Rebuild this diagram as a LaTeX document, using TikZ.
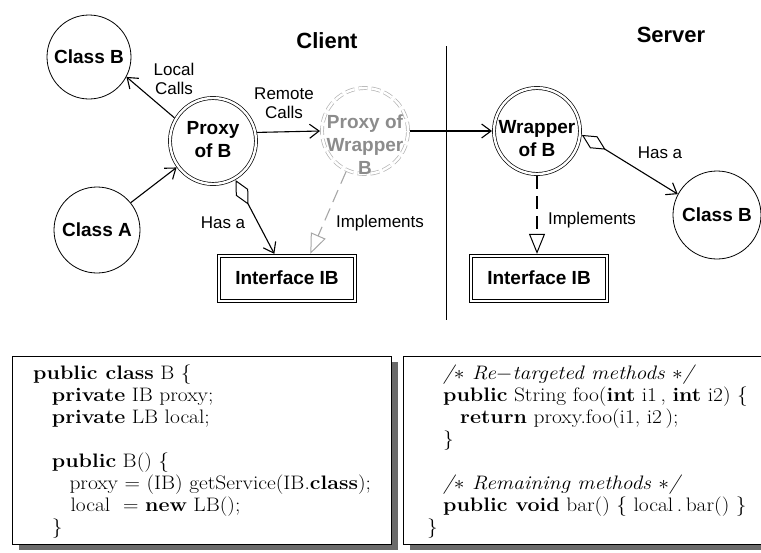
\RequirePackage{fix-cm}
\documentclass[tikz,border=0pt]{standalone}
\usepackage{fontspec}
\newfontfamily\hv{Liberation Sans}
\usetikzlibrary{arrows.meta}
\begin{document}
\begin{tikzpicture}[x=1pt,y=-1pt,
  cls/.style={circle, draw, line width=0.8pt, minimum size=#1, inner sep=0pt,
    font=\hv\fontsize{19}{23}\selectfont\bfseries, align=center},
  cls/.default=86pt,
  dcls/.style={circle, draw, double, double distance=2.4pt, line width=0.7pt,
    minimum size=86pt, inner sep=0pt, outer sep=2pt},
  ctext/.style={font=\hv\fontsize{19}{23}\selectfont\bfseries, align=center, inner sep=0pt},
  iface/.style={draw, line width=0.7pt,
    minimum width=132.7pt, minimum height=41.7pt, inner sep=0pt, outer sep=3.3pt,
    font=\hv\fontsize{19}{23}\selectfont\bfseries},
  ifaceouter/.style={draw, line width=0.7pt},
  lbl/.style={font=\hv\fontsize{17}{19}\selectfont, align=center, inner sep=0pt},
  side/.style={font=\hv\fontsize{22}{26}\selectfont\bfseries, inner sep=0pt},
  conn/.style={line width=1.1pt},
  barb/.style={-{Straight Barb[length=9.5pt,width=14pt,line width=1.1pt]}},
  hasa/.style={{Diamond[open,length=28pt,width=14pt,line width=1pt]}-{Straight Barb[length=9.5pt,width=14pt,line width=1.1pt]}},
  impl/.style={dash pattern=on 13pt off 7pt, -{Triangle[open,length=20pt,width=16pt,line width=1pt]}},
  codebox/.style={draw, line width=0.8pt, fill=white},
  shadowbox/.style={fill=black!58, draw=none},
  code/.style={inner sep=0pt, anchor=north west}
]
\useasboundingbox (0,0) rectangle (761,552);

% titles
\node[side] (client) at (327,41) {Client};
\node[side] (server) at (671,35) {Server};
\draw[line width=1pt] (446,46) coordinate (sepTop) -- (446,320) coordinate (sepBot);

% nodes
\node[cls=84pt] (cbl) at (89,57) {Class B};
\node[cls=86pt] (ca) at (97,230) {Class A};
\node[cls=88pt] (cbr) at (717,215) {Class B};
\node[dcls] (pb) at (213,141) {};
\node[ctext] (pbt) at (213,140) {Proxy\\of B};
\node[dcls, draw=black!30, dash pattern=on 9pt off 4pt] (pw) at (365,131) {};
\node[ctext, text=black!45] (pwt) at (365,145) {Proxy of\\Wrapper\\B};
\node[dcls] (wb) at (537,131) {};
\node[ctext] (wbt) at (537,139) {Wrapper\\of B};
\node[iface] (ifl) at (287,278) {Interface IB};
\draw[ifaceouter] (ifl.north west) rectangle (ifl.south east);
\node[iface] (ifr) at (539,278) {Interface IB};
\draw[ifaceouter] (ifr.north west) rectangle (ifr.south east);

% connectors
\draw[conn, barb] (pb.149) -- (cbl.-28);
\draw[conn, barb] (ca.39) -- (pb.216);
\draw[conn, barb] (pb.11) -- (pw.west);
\draw[conn, barb] (pw.east) -- (wb.west);
\draw[conn, hasa] (pb.-60) -- (ifl);
\draw[conn, hasa] (wb.-5) -- (cbr.152);
\draw[conn, impl, draw=black!35] (pw.245) -- (ifl.46);
\draw[conn, impl] (wb.south) -- (wb.south |- ifr.north);

% labels
\node[lbl] (llocal) at (174,79) {Local\\Calls};
\node[lbl] (lremote) at (284,103) {Remote\\Calls};
\node[lbl] (lhasa1) at (223,223) {Has a};
\node[lbl] (limpl1) at (380,223) {Implements};
\node[lbl] (lhasa2) at (660,153) {Has a};
\node[lbl] (limpl2) at (592,220) {Implements};

% code boxes
\fill[shadowbox] (19,362) rectangle (398,550);
\draw[codebox] (12,356) rectangle (391,544);
\fill[shadowbox] (410,362) rectangle (775,550);
\draw[codebox] (403,356) rectangle (768,544);

\node[code] (codeL) at (33,364) {\fontsize{19.5}{22}\selectfont\scalebox{1.1}[1]{\begin{tabular}{@{}l@{}}
\textbf{public class} B \{\\
\hspace*{17pt}\textbf{private} IB proxy;\\
\hspace*{17pt}\textbf{private} LB local;\\
\\
\hspace*{17pt}\textbf{public} B() \{\\
\hspace*{33pt}proxy $=$ (IB) getService(IB.\textbf{class});\\
\hspace*{34pt}local\ \ $=$ \textbf{new} LB();\\
\hspace*{17pt}\}
\end{tabular}}};

\node[code] (codeR) at (427,364) {\fontsize{19.5}{22}\selectfont\scalebox{1.1}[1]{\begin{tabular}{@{}l@{}}
\hspace*{14.5pt}{\itshape /$\ast$ Re$-$targeted methods $\ast$/}\\
\hspace*{14.5pt}\textbf{public} String foo(\textbf{int} i1\,, \textbf{int} i2) \{\\
\hspace*{30pt}\textbf{return} proxy.foo(i1, i2\,);\\
\hspace*{14.5pt}\}\\
\\
\hspace*{14.5pt}{\itshape /$\ast$ Remaining methods $\ast$/}\\
\hspace*{14.5pt}\textbf{public void} bar() \{ local\,.\,bar() \}\\
\}
\end{tabular}}};
\end{tikzpicture}
\end{document}
